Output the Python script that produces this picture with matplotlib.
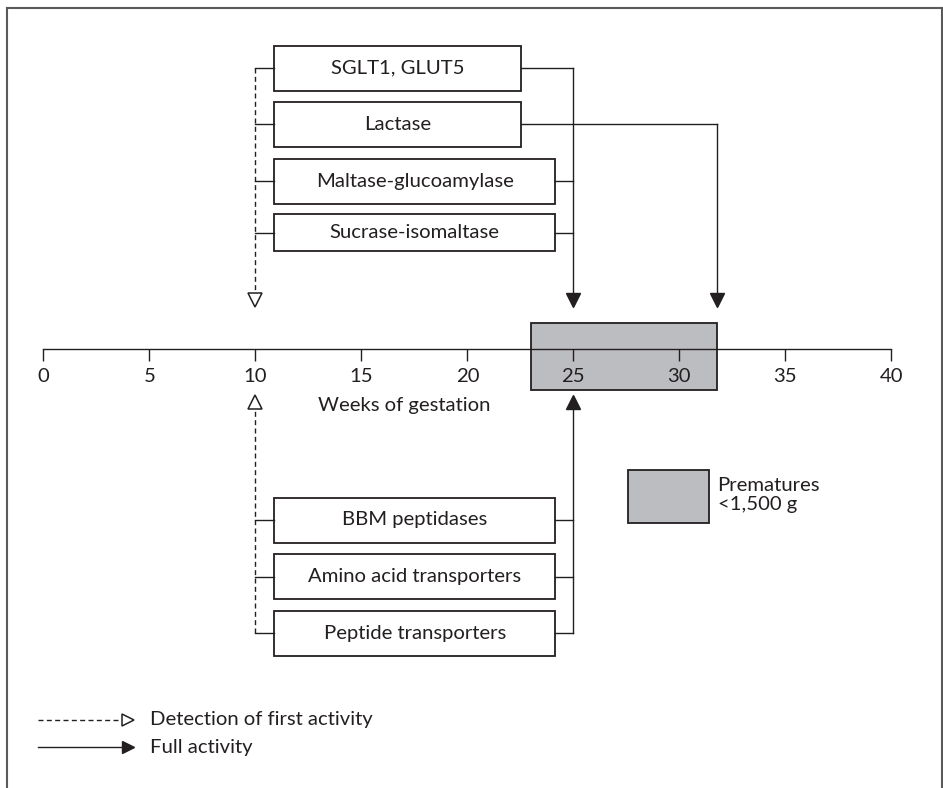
import matplotlib
matplotlib.use("Agg")
import matplotlib.pyplot as plt
from matplotlib.patches import Rectangle
from matplotlib.lines import Line2D

# ---------------- data ----------------
week_ticks = [0, 5, 10, 15, 20, 25, 30, 35, 40]
axis_label = "Weeks of gestation"

upper_labels = ["SGLT1, GLUT5", "Lactase", "Maltase-glucoamylase", "Sucrase-isomaltase"]
upper_first = [10, 10, 10, 10]          # detection of first activity (weeks)
upper_full = [25, 31.8, 25, 25]         # full activity (weeks)

lower_labels = ["BBM peptidases", "Amino acid transporters", "Peptide transporters"]
lower_first = [10, 10, 10]
lower_full = [25, 25, 25]

premature_range = [23, 31.8]            # premature <1,500 g window (weeks)
premature_label = "Prematures\n<1,500 g"
legend_labels = ["Detection of first activity", "Full activity"]

# ---------------- layout ----------------
W, H = 943, 788
X0, SCALE = 43.3, 21.2                   # pixel of week 0, pixels per week
def wk(px):
    return (px - X0) / SCALE

INK = "#231f20"
FONT = "Lato"
FS = 14.6
LW = 1.0

fig = plt.figure(figsize=(W / 100, H / 100), dpi=100)
ax = fig.add_axes([0, 0, 1, 1])
ax.set_xlim(wk(0), wk(W))
ax.set_ylim(H, 0)
ax.axis("off")

# frame (left, top, right)
for xs, ys in [([7.5, 7.5], [788, 7.5]), ([7.5, 942], [7.5, 7.5]), ([942, 942], [7.5, 788])]:
    fig.add_artist(Line2D([x / W for x in xs], [1 - y / H for y in ys],
                          color="#5a5a5a", lw=1.5, transform=fig.transFigure))

# timeline
AXIS_Y = 349.3
ax.plot([week_ticks[0], week_ticks[-1]], [AXIS_Y, AXIS_Y], color=INK, lw=LW, zorder=3)
ax.vlines(week_ticks, AXIS_Y, AXIS_Y + 12, color=INK, lw=LW, zorder=3)
for t in week_ticks:
    ax.text(t, 376.5, str(t), ha="center", va="center", fontsize=FS, family=FONT, color=INK, zorder=4)
ax.text(17.0, 405, axis_label, ha="center", va="center", fontsize=FS, family=FONT, color=INK)

# premature window
ax.add_patch(Rectangle((premature_range[0], 322.7), premature_range[1] - premature_range[0], 67.3,
                       facecolor="#bcbdc0", edgecolor=INK, lw=1.3, zorder=1))

BOX_LEFT = 10.9
DASH = (0, (3.6, 2.4))

def draw_boxes(labels, firsts, fulls, centers, heights, rights):
    for lab, c, h, r, full in zip(labels, centers, heights, rights, fulls):
        ax.add_patch(Rectangle((BOX_LEFT, c - h / 2), r - BOX_LEFT, h,
                               facecolor="white", edgecolor=INK, lw=1.3, zorder=2))
        ax.text((BOX_LEFT + r) / 2, c, lab, ha="center", va="center",
                fontsize=FS, family=FONT, color=INK, zorder=3)
    for f, c in zip(firsts, centers):
        ax.plot([f, BOX_LEFT], [c, c], color=INK, lw=LW)
    for full, c, r in zip(fulls, centers, rights):
        ax.plot([r, full], [c, c], color=INK, lw=LW)

# upper group
up_centers = [68, 124.3, 181, 232.7]
up_heights = [45, 45, 45, 37]
up_rights = [22.55, 22.55, 24.15, 24.15]
draw_boxes(upper_labels, upper_first, upper_full, up_centers, up_heights, up_rights)
ax.plot([upper_first[0], upper_first[0]], [up_centers[0], 293], color=INK, lw=LW, linestyle=DASH)
ax.plot([upper_first[0]], [300], marker="v", ms=10, mfc="white", mec=INK, mew=1.1, ls="none")
for full in sorted(set(upper_full)):
    top = min(c for c, f in zip(up_centers, upper_full) if f == full)
    ax.plot([full, full], [top, 294], color=INK, lw=LW)
    ax.plot([full], [300], marker="v", ms=10, color=INK, ls="none")

# lower group
lo_centers = [520, 576.5, 633]
lo_heights = [45, 45, 45]
lo_rights = [24.15, 24.15, 24.15]
draw_boxes(lower_labels, lower_first, lower_full, lo_centers, lo_heights, lo_rights)
ax.plot([lower_first[0], lower_first[0]], [lo_centers[-1], 408], color=INK, lw=LW, linestyle=DASH)
ax.plot([lower_first[0]], [401.5], marker="^", ms=10, mfc="white", mec=INK, mew=1.1, ls="none")
ax.plot([lower_full[0], lower_full[0]], [lo_centers[-1], 407], color=INK, lw=LW)
ax.plot([lower_full[0]], [401.5], marker="^", ms=10, color=INK, ls="none")

# premature legend
ax.add_patch(Rectangle((wk(628.3), 470), wk(709) - wk(628.3), 53.3,
                       facecolor="#bcbdc0", edgecolor=INK, lw=1.3))
ax.text(wk(717.5), 495, premature_label, ha="left", va="center", fontsize=FS,
        family=FONT, color=INK, linespacing=1.15)

# line legend
ly = [720, 747]
ax.plot([wk(38), wk(123)], [ly[0], ly[0]], color=INK, lw=LW, linestyle=DASH)
ax.plot([wk(128)], [ly[0]], marker=">", ms=8, mfc="white", mec=INK, mew=1.1, ls="none")
ax.plot([wk(38), wk(125)], [ly[1], ly[1]], color=INK, lw=LW)
ax.plot([wk(128)], [ly[1]], marker=">", ms=8, color=INK, ls="none")
for y, lab in zip(ly, legend_labels):
    ax.text(wk(150), y, lab, ha="left", va="center", fontsize=FS, family=FONT, color=INK)

fig.savefig("out.png", dpi=100, facecolor="white")
